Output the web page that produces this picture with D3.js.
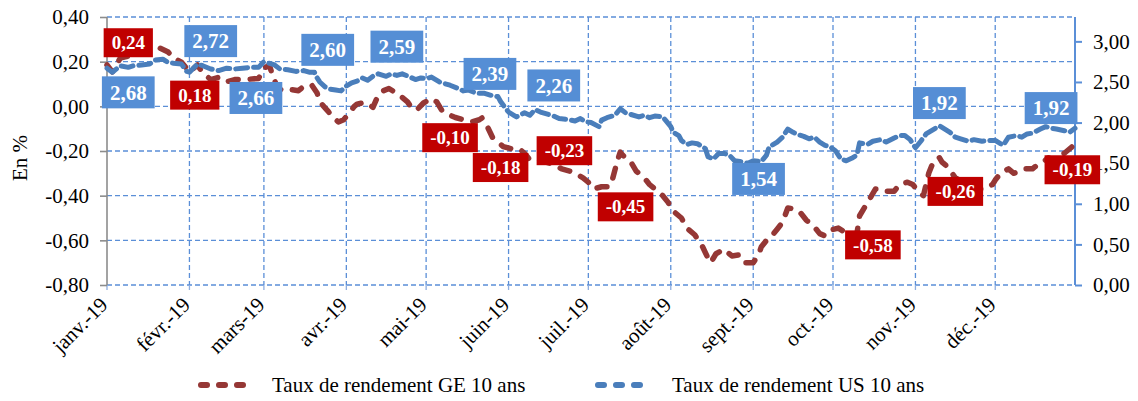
<!DOCTYPE html>
<html>
<head>
<meta charset="utf-8">
<script src="https://cdn.jsdelivr.net/npm/d3@7"></script>
<style>
body { margin: 0; background: #fff; }
svg { display: block; }
svg text { font-family: "Times New Roman", "Liberation Serif", Tinos, "DejaVu Serif", serif; }
</style>
</head>
<body>
<svg id="chart" width="1138" height="401"></svg>
<script>
var monthLabels = ['janv.-19', 'févr.-19', 'mars-19', 'avr.-19', 'mai-19', 'juin-19',
                   'juil.-19', 'août-19', 'sept.-19', 'oct.-19', 'nov.-19', 'déc.-19'];
var leftTicks = [-0.8, -0.6, -0.4, -0.2, 0, 0.2, 0.4];
var rightTicks = [0, 0.5, 1, 1.5, 2, 2.5, 3];
var seriesNames = ['Taux de rendement GE 10 ans', 'Taux de rendement US 10 ans'];

// days counted from 1 Jan 2019
var geDays = [0, 2, 5, 10, 16, 20, 23, 25, 28, 31,
              34, 36, 39, 42, 45, 48, 52, 57, 59, 61,
              62, 64, 66, 69, 72, 74, 77, 79, 80, 83,
              85, 87, 89, 91, 93, 94, 96, 98, 100, 102,
              104, 106, 108, 111, 113, 115, 117, 119, 122, 124,
              126, 129, 131, 134, 137, 140, 141, 143, 145, 147,
              149, 152, 155, 157, 159, 162, 165, 168, 171, 174,
              176, 179, 181, 183, 186, 189, 190, 192, 193, 194,
              197, 199, 202, 204, 207, 209, 211, 213, 216, 218,
              221, 224, 226, 227, 229, 232, 235, 238, 240, 243,
              245, 246, 248, 250, 252, 254, 256, 259, 261, 263,
              266, 268, 270, 272, 275, 277, 280, 282, 283, 285,
              287, 289, 291, 293, 296, 298, 301, 303, 305, 307,
              309, 311, 313, 314, 316, 319, 322, 325, 328, 330,
              333, 334, 336, 339, 341, 343, 345, 348, 349, 352,
              354, 356, 358, 360, 362, 364];
var geValues = [0.185, 0.154, 0.216, 0.23, 0.243, 0.26, 0.243, 0.216, 0.198, 0.154,
                0.185, 0.15, 0.12, 0.13, 0.11, 0.12, 0.12, 0.125, 0.17, 0.185,
                0.15, 0.085, 0.07, 0.075, 0.07, 0.09, 0.095, 0.06, 0.02, -0.02,
                -0.05, -0.07, -0.06, -0.03, 0, 0.01, 0.015, 0.015, -0.005, 0.05,
                0.07, 0.08, 0.065, 0.04, 0.02, -0.015, -0.01, 0.015, 0.035, 0.02,
                -0.02, -0.04, -0.05, -0.06, -0.07, -0.06, -0.052, -0.09, -0.14, -0.16,
                -0.18, -0.19, -0.19, -0.21, -0.24, -0.24, -0.25, -0.26, -0.28, -0.29,
                -0.30, -0.32, -0.34, -0.37, -0.36, -0.36, -0.33, -0.24, -0.205, -0.22,
                -0.25, -0.29, -0.32, -0.35, -0.38, -0.40, -0.43, -0.47, -0.50, -0.545,
                -0.575, -0.63, -0.68, -0.70, -0.66, -0.64, -0.67, -0.665, -0.70, -0.70,
                -0.665, -0.63, -0.60, -0.58, -0.55, -0.52, -0.455, -0.46, -0.48, -0.51,
                -0.54, -0.57, -0.58, -0.555, -0.545, -0.56, -0.58, -0.57, -0.49, -0.45,
                -0.41, -0.37, -0.37, -0.38, -0.38, -0.35, -0.34, -0.35, -0.38, -0.40,
                -0.30, -0.24, -0.23, -0.25, -0.27, -0.32, -0.34, -0.36, -0.37, -0.37,
                -0.35, -0.33, -0.30, -0.28, -0.30, -0.29, -0.28, -0.28, -0.27, -0.25,
                -0.23, -0.24, -0.22, -0.21, -0.19, -0.17];

var usDays = [0, 2, 5, 8, 10, 13, 16, 18, 21, 23,
              25, 28, 30, 31, 34, 36, 39, 42, 45, 48,
              51, 54, 57, 59, 60, 63, 65, 68, 71, 74,
              76, 78, 79, 80, 82, 84, 86, 88, 90, 92,
              94, 96, 98, 100, 102, 105, 107, 109, 111, 114,
              116, 118, 120, 122, 125, 127, 129, 132, 134, 136,
              139, 142, 145, 147, 148, 150, 151, 153, 154, 157,
              159, 161, 163, 166, 168, 170, 173, 176, 178, 180,
              182, 185, 186, 188, 191, 193, 195, 197, 200, 202,
              204, 206, 209, 210, 212, 213, 215, 216, 218, 220,
              222, 225, 226, 228, 230, 232, 234, 236, 238, 241,
              243, 246, 248, 249, 252, 254, 256, 258, 260, 262,
              264, 266, 268, 270, 272, 274, 276, 278, 280, 282,
              283, 286, 288, 291, 293, 296, 298, 300, 302, 304,
              306, 308, 311, 313, 314, 317, 319, 321, 324, 326,
              329, 332, 334, 337, 339, 342, 344, 346, 348, 351,
              353, 355, 357, 360, 362, 364];
var usValues = [2.67, 2.62, 2.70, 2.68, 2.70, 2.71, 2.72, 2.77, 2.78, 2.74,
                2.73, 2.72, 2.63, 2.62, 2.72, 2.70, 2.66, 2.64, 2.67, 2.66,
                2.67, 2.68, 2.68, 2.75, 2.74, 2.71, 2.66, 2.65, 2.63, 2.64,
                2.62, 2.62, 2.55, 2.50, 2.44, 2.41, 2.40, 2.39, 2.45, 2.49,
                2.51, 2.55, 2.52, 2.57, 2.60, 2.57, 2.60, 2.58, 2.60, 2.56,
                2.53, 2.55, 2.54, 2.56, 2.50, 2.48, 2.46, 2.42, 2.39, 2.40,
                2.36, 2.36, 2.33, 2.32, 2.26, 2.17, 2.13, 2.09, 2.07, 2.12,
                2.09, 2.16, 2.13, 2.10, 2.08, 2.05, 2.04, 2.02, 2.05, 2.01,
                2.00, 1.95, 2.03, 2.06, 2.09, 2.17, 2.12, 2.10, 2.07, 2.09,
                2.06, 2.08, 2.07, 2.03, 1.95, 1.88, 1.84, 1.78, 1.73, 1.75,
                1.74, 1.68, 1.58, 1.55, 1.62, 1.62, 1.60, 1.53, 1.52, 1.50,
                1.53, 1.52, 1.60, 1.70, 1.76, 1.82, 1.92, 1.88, 1.85, 1.83,
                1.80, 1.82, 1.76, 1.72, 1.70, 1.65, 1.55, 1.53, 1.56, 1.60,
                1.75, 1.73, 1.77, 1.79, 1.76, 1.81, 1.84, 1.84, 1.79, 1.69,
                1.77, 1.86, 1.92, 1.96, 1.94, 1.88, 1.82, 1.80, 1.77, 1.79,
                1.77, 1.78, 1.78, 1.72, 1.82, 1.84, 1.82, 1.86, 1.87, 1.92,
                1.95, 1.93, 1.92, 1.90, 1.88, 1.93];

var geLabelDays = [8, 33, 129, 148, 172, 195, 288, 319, 363];
var geLabelValues = [0.24, 0.18, -0.10, -0.18, -0.23, -0.45, -0.58, -0.26, -0.19];
var usLabelDays = [8, 39, 56, 83, 109, 144, 168, 245, 313, 355];
var usLabelValues = [2.68, 2.72, 2.66, 2.60, 2.59, 2.39, 2.26, 1.54, 1.92, 1.92];

// label box offsets from their point (layout only)
var geLabelDy = [-10, 29, 9, 21, -7, 0, 9, 27, 21];
var usLabelDy = [25, -23, 29, -24, -28, -17, -16, 19, -26, -21];

var geColor = '#953735', usColor = '#4a7ebb', gridColor = '#5b8fd7';

var svg = d3.select('#chart');
var margin = {top: 17, right: 63, bottom: 116, left: 107};
var width = +svg.attr('width') - margin.left - margin.right;
var height = +svg.attr('height') - margin.top - margin.bottom;
var plot = svg.append('g').attr('transform', 'translate(' + margin.left + ',' + margin.top + ')');

var start = new Date(2019, 0, 1);
function dayToDate(d) { return d3.timeDay.offset(start, d); }
function fmt(v) { return v.toFixed(2).replace('.', ','); }

var x = d3.scaleTime().domain([start, new Date(2019, 11, 31)]).range([0, width]);
var yL = d3.scaleLinear().domain([-0.8, 0.4]).range([height, 0]);
var yR = d3.scaleLinear().domain([0, 3.3]).range([height, 0]);
var months = d3.timeMonth.range(start, new Date(2019, 11, 31));

// grid
plot.selectAll('.hgrid').data(leftTicks).enter().append('line')
    .attr('x1', 0).attr('x2', width)
    .attr('y1', function(d) { return yL(d); }).attr('y2', function(d) { return yL(d); })
    .attr('stroke', gridColor).attr('stroke-width', 1.3).attr('stroke-dasharray', '5,3');
plot.selectAll('.vgrid').data(months.slice(1)).enter().append('line')
    .attr('x1', function(d) { return x(d); }).attr('x2', function(d) { return x(d); })
    .attr('y1', 0).attr('y2', height)
    .attr('stroke', gridColor).attr('stroke-width', 1.3).attr('stroke-dasharray', '5,3');
plot.selectAll('.xtick').data(months).enter().append('line')
    .attr('x1', function(d) { return x(d); }).attr('x2', function(d) { return x(d); })
    .attr('y1', height).attr('y2', height + 5)
    .attr('stroke', '#8eaee0').attr('stroke-width', 1.3);

// axes
var leftAxis = plot.append('g').call(d3.axisLeft(yL).tickValues(leftTicks).tickFormat(fmt)
    .tickSize(7).tickPadding(11));
leftAxis.attr('font-family', null);
leftAxis.selectAll('path, line').attr('stroke', '#8c8c8c').attr('stroke-width', 1.6);
leftAxis.select('.domain').attr('d', 'M0,0V' + height);
leftAxis.selectAll('text').attr('font-size', 21).attr('fill', '#000');

var rightAxis = plot.append('g').attr('transform', 'translate(' + width + ',0)')
    .call(d3.axisRight(yR).tickValues(rightTicks).tickFormat(fmt).tickSize(7).tickPadding(11));
rightAxis.attr('font-family', null);
rightAxis.selectAll('path, line').attr('stroke', gridColor).attr('stroke-width', 2);
rightAxis.select('.domain').attr('d', 'M0,0V' + height);
rightAxis.selectAll('text').attr('font-size', 21).attr('fill', '#000');

plot.selectAll('.xlabel').data(months).enter().append('text')
    .attr('transform', function(d) { return 'translate(' + (x(d) + 2) + ',' + (height + 21) + ') rotate(-45)'; })
    .attr('text-anchor', 'end').attr('font-size', 21)
    .text(function(d, i) { return monthLabels[i]; });

svg.append('text').attr('transform', 'translate(27,' + (margin.top + 141) + ') rotate(-90)')
    .attr('text-anchor', 'middle').attr('font-size', 21).text('En %');

// lines
var geData = geDays.map(function(d, i) { return {date: dayToDate(d), v: geValues[i]}; });
var usData = usDays.map(function(d, i) { return {date: dayToDate(d), v: usValues[i]}; });

plot.append('path').datum(geData)
    .attr('d', d3.line().x(function(d) { return x(d.date); }).y(function(d) { return yL(d.v); }))
    .attr('fill', 'none').attr('stroke', geColor).attr('stroke-width', 5.5)
    .attr('stroke-linecap', 'round').attr('stroke-linejoin', 'round').attr('stroke-dasharray', '10,12');
plot.append('path').datum(usData)
    .attr('d', d3.line().x(function(d) { return x(d.date); }).y(function(d) { return yR(d.v); }))
    .attr('fill', 'none').attr('stroke', usColor).attr('stroke-width', 5)
    .attr('stroke-linecap', 'round').attr('stroke-linejoin', 'round').attr('stroke-dasharray', '12,6');

// data labels
function drawLabels(days, values, dys, yScale, fill, size, h) {
    var g = plot.selectAll(null).data(days).enter().append('g')
        .attr('transform', function(d, i) {
            return 'translate(' + x(dayToDate(d)) + ',' + (yScale(values[i]) + dys[i]) + ')';
        });
    g.append('text').attr('text-anchor', 'middle').attr('dy', '0.35em')
        .attr('fill', '#fff').attr('font-weight', 'bold').attr('font-size', size)
        .text(function(d, i) { return fmt(values[i]); });
    g.insert('rect', 'text').each(function() {
        var w = this.parentNode.querySelector('text').getComputedTextLength() + 16;
        d3.select(this).attr('x', -w / 2).attr('y', -h / 2).attr('width', w).attr('height', h).attr('fill', fill);
    });
}
drawLabels(geLabelDays, geLabelValues, geLabelDy, yL, '#c00000', 19, 29);
drawLabels(usLabelDays, usLabelValues, usLabelDy, yR, '#558ed5', 21, 32);

// legend
var legend = svg.append('g').attr('transform', 'translate(0,385)');
[[geColor, 198, 272], [usColor, 595, 672]].forEach(function(l, i) {
    legend.append('line').attr('x1', l[1] + 3).attr('x2', l[1] + 45).attr('y1', 0).attr('y2', 0)
        .attr('stroke', l[0]).attr('stroke-width', 6).attr('stroke-linecap', 'round')
        .attr('stroke-dasharray', '6,12');
    legend.append('text').attr('x', l[2]).attr('dy', '0.35em').attr('font-size', 21).text(seriesNames[i]);
});
</script>
</body>
</html>
